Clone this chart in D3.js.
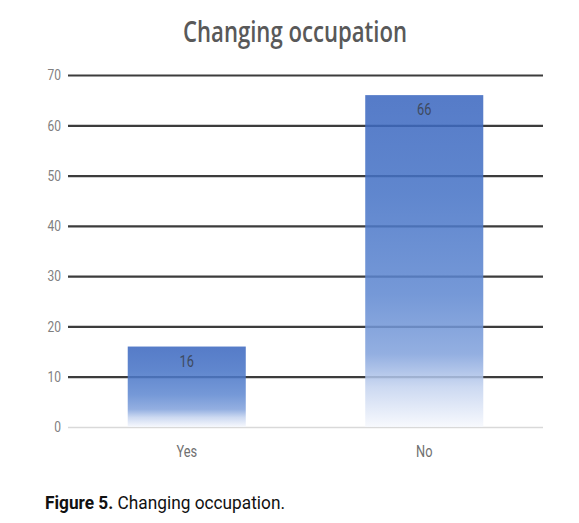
<!DOCTYPE html>
<html>
<head>
<meta charset="utf-8">
<script src="https://cdn.jsdelivr.net/npm/d3@7"></script>
<style>
  body { margin: 0; background: #fff; }
  svg { display: block; }
</style>
</head>
<body>
<svg id="SVG_CONTAINER" width="579" height="523"></svg>
<script>
// chart data
const categories = ["Yes", "No"];
const counts = [16, 66];
const yTicks = [0, 10, 20, 30, 40, 50, 60, 70];
const chartTitle = "Changing occupation";
const captionBold = "Figure 5.";
const captionText = " Changing occupation.";

const width = 579, height = 523;
const MARGIN = {LEFT: 68, RIGHT: 36, TOP: 75, BOTTOM: 96};
const NARROW = 0.8;   // horizontal squeeze to mimic the condensed label font
const labelFont = "'Roboto', sans-serif";

let svg = d3.select("#SVG_CONTAINER");

//** SCALES *****************************************
let xScale = d3.scaleBand()
    .domain(categories)
    .range([MARGIN.LEFT, width - MARGIN.RIGHT])
    .paddingInner(0.503)
    .paddingOuter(0.2515);

let yScale = d3.scaleLinear()
    .domain([0, 70])
    .range([height - MARGIN.BOTTOM, MARGIN.TOP]);

//** GRADIENT *****************************************
let grad = svg.append("defs").append("linearGradient")
    .attr("id", "barGrad")
    .attr("x1", "0%").attr("y1", "0%")
    .attr("x2", "0%").attr("y2", "100%");
let stops = [
    [0, "#3a66bf"], [0.3, "#4673c6"], [0.6, "#5f88d1"],
    [0.78, "#82a2dc"], [0.88, "#c4d3ef"], [1, "#f6f8fd"]
];
grad.selectAll("stop").data(stops).enter().append("stop")
    .attr("offset", d => d[0])
    .attr("stop-color", d => d[1]);

//** GRID *****************************************
let yAxis = d3.axisLeft(yScale)
    .tickValues(yTicks)
    .tickSize(-(width - MARGIN.LEFT - MARGIN.RIGHT))
    .tickPadding(7);

let gAxis = svg.append("g")
    .attr("transform", "translate(" + MARGIN.LEFT + ",0)")
    .call(yAxis);
gAxis.select(".domain").remove();
gAxis.selectAll(".tick line")
    .attr("stroke", d => d === 0 ? "#d9d9d9" : "#3c3c3c")
    .attr("stroke-width", d => d === 0 ? 1.5 : 2.2);
gAxis.selectAll(".tick text")
    .attr("x", -7 / NARROW)
    .attr("transform", "scale(" + NARROW + ",1)")
    .attr("fill", "#808080")
    .style("font-family", labelFont)
    .style("font-size", "15px");

//** BARS *****************************************
svg.append("g").selectAll("rect")
    .data(categories)
    .enter().append("rect")
    .attr("x", d => xScale(d))
    .attr("y", (d, i) => yScale(counts[i]))
    .attr("width", xScale.bandwidth())
    .attr("height", (d, i) => yScale(0) - yScale(counts[i]))
    .attr("fill", "url(#barGrad)")
    .attr("opacity", 0.86);

// data labels
svg.append("g").selectAll("text")
    .data(categories)
    .enter().append("text")
    .attr("transform", (d, i) => "translate(" + (xScale(d) + xScale.bandwidth() / 2) + "," + (yScale(counts[i]) + 20) + ") scale(" + NARROW + ",1)")
    .attr("text-anchor", "middle")
    .attr("fill", "#3e4a60")
    .style("font-family", labelFont)
    .style("font-size", "16px")
    .text((d, i) => counts[i]);

//** X LABELS *****************************************
svg.append("g").selectAll("text")
    .data(categories)
    .enter().append("text")
    .attr("transform", d => "translate(" + (xScale(d) + xScale.bandwidth() / 2) + ",457) scale(" + NARROW + ",1)")
    .attr("text-anchor", "middle")
    .attr("fill", "#707070")
    .style("font-family", labelFont)
    .style("font-size", "16px")
    .text(d => d);

//** TITLE *****************************************
svg.append("text")
    .attr("x", 295)
    .attr("y", 42)
    .attr("text-anchor", "middle")
    .attr("fill", "#595959")
    .attr("textLength", 224)
    .attr("lengthAdjust", "spacingAndGlyphs")
    .style("font-family", "'Open Sans', sans-serif")
    .style("font-weight", "600")
    .style("font-size", "28px")
    .text(chartTitle);

//** CAPTION *****************************************
let cap = svg.append("text")
    .attr("x", 45)
    .attr("y", 509)
    .attr("fill", "#111")
    .attr("textLength", 240)
    .attr("lengthAdjust", "spacingAndGlyphs")
    .style("font-family", "'Roboto', sans-serif")
    .style("font-size", "19px");
cap.append("tspan").style("font-weight", "700").text(captionBold);
cap.append("tspan").text(captionText);
</script>
</body>
</html>
